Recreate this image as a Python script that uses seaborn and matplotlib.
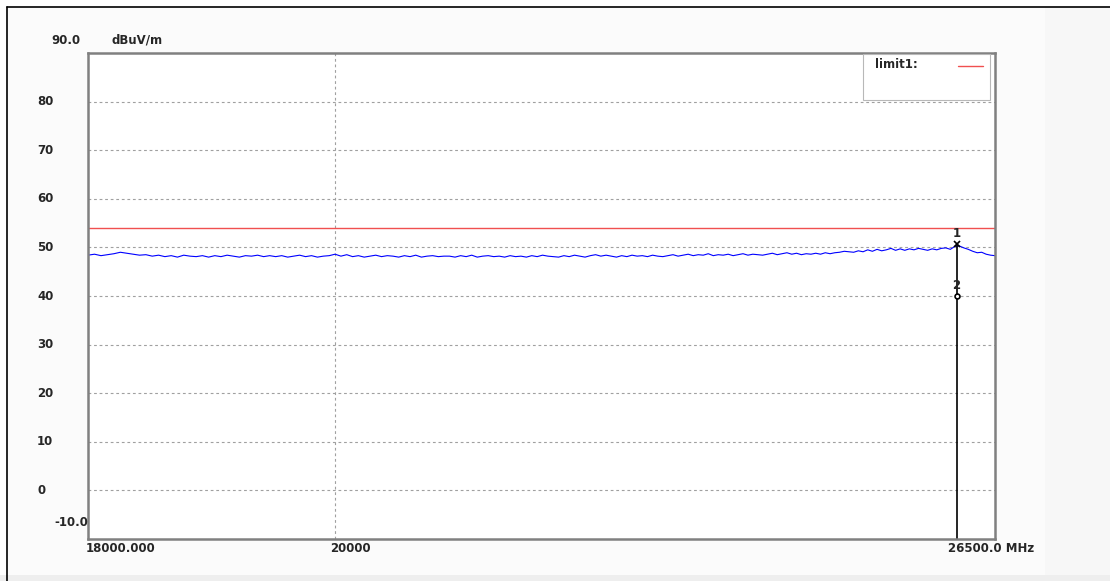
import numpy as np
import pandas as pd
import seaborn as sns
import matplotlib.pyplot as plt
from matplotlib import transforms
from matplotlib.lines import Line2D
from matplotlib.patches import Rectangle

sns.set_style('white')
plt.rcParams['font.family'] = ['DejaVu Sans']

# Sweep data (MHz, dBuV/m)
freq_mhz = [
    18000, 18050, 18100, 18150, 18200, 18250, 18300, 18350, 18400, 18450,
    18500, 18550, 18600, 18650, 18700, 18750, 18800, 18850, 18900, 18950,
    19000, 19050, 19100, 19150, 19200, 19250, 19300, 19350, 19400, 19450,
    19500, 19550, 19600, 19650, 19700, 19750, 19800, 19850, 19900, 19950,
    20000, 20050, 20100, 20150, 20200, 20250, 20300, 20350, 20400, 20450,
    20500, 20550, 20600, 20650, 20700, 20750, 20800, 20850, 20900, 20950,
    21000, 21050, 21100, 21150, 21200, 21250, 21300, 21350, 21400, 21450,
    21500, 21550, 21600, 21650, 21700, 21750, 21800, 21850, 21900, 21950,
    22000, 22050, 22100, 22150, 22200, 22250, 22300, 22350, 22400, 22450,
    22500, 22550, 22600, 22650, 22700, 22750, 22800, 22850, 22900, 22950,
    23000, 23050, 23100, 23150, 23200, 23250, 23300, 23350, 23400, 23450,
    23500, 23550, 23600, 23650, 23700, 23750, 23800, 23850, 23900, 23950,
    24000, 24050, 24100, 24150, 24200, 24250, 24300, 24350, 24400, 24450,
    24500, 24550, 24600, 24650, 24700, 24750, 24800, 24850, 24900, 24950,
    25000, 25050, 25100, 25150, 25200, 25250, 25300, 25350, 25400, 25450,
    25500, 25550, 25600, 25650, 25700, 25750, 25800, 25850, 25900, 25950,
    26000, 26050, 26100, 26150, 26200, 26250, 26300, 26350, 26400, 26450,
    26500,
]
level_dbuv = [
    48.4, 48.6, 48.3, 48.5, 48.7, 49.0, 48.8, 48.6, 48.4, 48.5,
    48.2, 48.4, 48.1, 48.3, 48.0, 48.4, 48.2, 48.1, 48.3, 48.0,
    48.3, 48.1, 48.4, 48.2, 48.0, 48.3, 48.2, 48.4, 48.1, 48.3,
    48.1, 48.3, 48.0, 48.2, 48.4, 48.1, 48.3, 48.0, 48.2, 48.3,
    48.6, 48.2, 48.5, 48.1, 48.3, 48.0, 48.2, 48.4, 48.1, 48.3,
    48.2, 48.0, 48.3, 48.1, 48.4, 48.0, 48.2, 48.3, 48.1, 48.2,
    48.2, 48.0, 48.3, 48.1, 48.4, 48.0, 48.2, 48.3, 48.1, 48.2,
    48.0, 48.3, 48.1, 48.2, 48.0, 48.3, 48.1, 48.4, 48.2, 48.1,
    48.0, 48.3, 48.1, 48.4, 48.2, 48.0, 48.3, 48.5, 48.2, 48.4,
    48.2, 48.0, 48.3, 48.1, 48.4, 48.2, 48.3, 48.1, 48.4, 48.2,
    48.1, 48.3, 48.5, 48.2, 48.4, 48.6, 48.3, 48.5, 48.4, 48.7,
    48.3, 48.5, 48.4, 48.6, 48.3, 48.5, 48.7, 48.4, 48.6, 48.5,
    48.4, 48.6, 48.8, 48.5, 48.7, 48.9, 48.6, 48.8, 48.5, 48.7,
    48.6, 48.8, 48.6, 48.9, 48.7, 48.9, 49.0, 49.2, 49.1, 49.0,
    49.3, 49.1, 49.5, 49.2, 49.6, 49.3, 49.5, 49.8, 49.4, 49.7,
    49.4, 49.7, 49.5, 49.8, 49.6, 49.4, 49.7, 49.5, 49.8, 49.9,
    49.6, 50.2, 50.3, 49.9, 49.6, 49.2, 48.9, 49.0, 48.6, 48.4,
    48.3,
]
limit_freq = [18000, 26500]
limit_level = [54.0, 54.0]

marker_freq = 26070
marker_peak = 50.6
marker_avg = 39.9

y_grid = [0, 10, 20, 30, 40, 50, 60, 70, 80]
y_labels = ['0', '10', '20', '30', '40', '50', '60', '70', '80']

trace = pd.DataFrame({'freq': freq_mhz, 'level': level_dbuv})
limit = pd.DataFrame({'freq': limit_freq, 'level': limit_level})

fs = 8.5

fig = plt.figure(figsize=(11.1, 5.81), dpi=100)
fig.patch.set_facecolor('white')

# Window background and its dark frame
fig.add_artist(Rectangle((7 / 1110, 0), 1, 1 - 7 / 581, transform=fig.transFigure,
                         facecolor='#fbfbfb', edgecolor='none', zorder=-5))
fig.add_artist(Rectangle((1045 / 1110, 0), 65 / 1110, 1 - 7 / 581, transform=fig.transFigure,
                         facecolor='#f7f7f7', edgecolor='none', zorder=-4))
fig.add_artist(Rectangle((0, 0), 1, 6 / 581, transform=fig.transFigure,
                         facecolor='#eeeeee', edgecolor='none', zorder=-4))
fig.add_artist(Line2D([7 / 1110, 7 / 1110], [0, 1 - 7 / 581], transform=fig.transFigure,
                      color='black', lw=1.2))
fig.add_artist(Line2D([7 / 1110, 1], [1 - 7 / 581, 1 - 7 / 581], transform=fig.transFigure,
                      color='black', lw=1.2))

ax = fig.add_axes([88 / 1110, 1 - 539 / 581, (995 - 88) / 1110, (539 - 53) / 581])
ax.set_facecolor('white')

sns.lineplot(data=trace, x='freq', y='level', ax=ax, color='#0000ff', lw=0.8)
sns.lineplot(data=limit, x='freq', y='level', ax=ax, color='#f05050', lw=1.0)

ax.set_xscale('log')
ax.set_xlim(18000, 26500)
ax.set_ylim(-10, 90)
ax.set_xlabel('')
ax.set_ylabel('')

ax.set_yticks(y_grid)
ax.set_yticklabels([])
ax.set_xticks([20000])
ax.set_xticks([], minor=True)
ax.set_xticklabels([])
ax.tick_params(length=0)
ax.grid(True, color='#a0a0a0', linestyle=(0, (2.5, 2.5)), lw=0.8)

for s in ax.spines.values():
    s.set_color('#808080')
    s.set_linewidth(1.8)

# Markers
ax.plot([marker_freq, marker_freq], [-10, marker_peak], color='black', lw=1.2)
ax.plot(marker_freq, marker_peak, marker='x', color='black', ms=5, mew=1.2)
ax.plot(marker_freq, marker_avg, marker='o', color='black', ms=3.5, mfc='white', mew=1.2)
ax.text(marker_freq, marker_peak + 1.0, '1', ha='center', va='bottom', fontsize=fs, fontweight='bold')
ax.text(marker_freq, marker_avg + 1.0, '2', ha='center', va='bottom', fontsize=fs, fontweight='bold')

# Legend box
ax.add_patch(Rectangle((863 / 1110, 1 - 100 / 581), 127 / 1110, 46 / 581, transform=fig.transFigure,
                       facecolor='white', edgecolor='#b8b8b8', lw=0.8, zorder=5))
fig.text(875 / 1110, 1 - 65 / 581, 'limit1:', fontsize=fs, fontweight='bold', va='center', zorder=6)
fig.add_artist(Line2D([958 / 1110, 983 / 1110], [1 - 66 / 581, 1 - 66 / 581], transform=fig.transFigure,
                      color='#f05050', lw=1.0, zorder=6))

# Y labels
ylab = transforms.blended_transform_factory(fig.transFigure, ax.transData)
for v, lab in zip(y_grid, y_labels):
    ax.text(37 / 1110, v, lab, transform=ylab, ha='left', va='center', fontsize=fs, fontweight='bold')
fig.text(51 / 1110, 1 - 40 / 581, '90.0', ha='left', va='center', fontsize=fs, fontweight='bold')
fig.text(112 / 1110, 1 - 40 / 581, 'dBuV/m', ha='left', va='center', fontsize=fs, fontweight='bold')
fig.text(88 / 1110, 1 - 522 / 581, '-10.0', ha='right', va='center', fontsize=fs, fontweight='bold')

# X labels
fig.text(121 / 1110, 1 - 549 / 581, '18000.000', ha='center', va='center', fontsize=fs, fontweight='bold')
fig.text(330 / 1110, 1 - 549 / 581, '20000', ha='left', va='center', fontsize=fs, fontweight='bold')
fig.text(948 / 1110, 1 - 549 / 581, '26500.0 MHz', ha='left', va='center', fontsize=fs, fontweight='bold')

fig.savefig('out.png', dpi=100)
